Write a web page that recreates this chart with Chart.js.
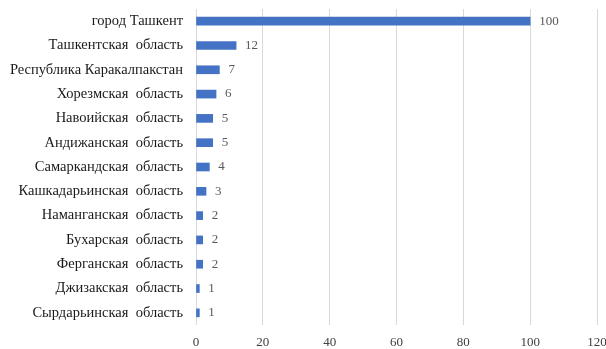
<!DOCTYPE html>
<html>
<head>
<meta charset="utf-8">
<script src="https://cdn.jsdelivr.net/npm/chart.js@4/dist/chart.umd.min.js"></script>
<style>
  html, body { margin: 0; padding: 0; background: #fff; }
  #wrap { width: 606px; height: 349px; }
</style>
</head>
<body>
<div id="wrap"><canvas id="regionChart" width="606" height="349"></canvas></div>
<script>
const regiones = [
    "город Ташкент",
    "Ташкентская  область",
    "Республика Каракалпакстан",
    "Хорезмская  область",
    "Навоийская  область",
    "Андижанская  область",
    "Самаркандская  область",
    "Кашкадарьинская  область",
    "Наманганская  область",
    "Бухарская  область",
    "Ферганская  область",
    "Джизакская  область",
    "Сырдарьинская  область"
];
const valores = [100, 12, 7, 6, 5, 5, 4, 3, 2, 2, 2, 1, 1];
const ejeMax = 120;
const ejePaso = 20;

const fuente = "'Liberation Serif', 'Times New Roman', serif";

// escribe el valor al final de cada barra
const etiquetasValor = {
    id: "etiquetasValor",
    afterDatasetsDraw(chart) {
        const ctx = chart.ctx;
        const meta = chart.getDatasetMeta(0);
        ctx.save();
        ctx.font = "13px " + fuente;
        ctx.fillStyle = "#595959";
        ctx.textAlign = "left";
        ctx.textBaseline = "middle";
        meta.data.forEach((bar, i) => {
            ctx.fillText(String(valores[i]), bar.x + 9, bar.y);
        });
        ctx.restore();
    }
};

const ctx = document.getElementById("regionChart").getContext("2d");
new Chart(ctx, {
    type: "bar",
    data: {
        labels: regiones,
        datasets: [{
            data: valores,
            backgroundColor: "#4472C4",
            borderWidth: 0,
            barThickness: 8
        }]
    },
    options: {
        indexAxis: "y",
        responsive: false,
        animation: false,
        layout: {
            padding: { top: 9, right: 9, bottom: 0, left: 0 }
        },
        plugins: {
            legend: { display: false },
            tooltip: { enabled: false }
        },
        scales: {
            x: {
                min: 0,
                max: ejeMax,
                ticks: {
                    stepSize: ejePaso,
                    color: "#404040",
                    font: { family: fuente, size: 13 },
                    padding: 10
                },
                grid: {
                    color: "#d9d9d9",
                    lineWidth: 1,
                    drawTicks: false
                },
                border: { display: false },
                afterFit(scale) {
                    scale.height = 24;
                    scale.paddingRight = 0;
                    scale.paddingLeft = 0;
                }
            },
            y: {
                ticks: {
                    color: "#1a1a1a",
                    font: { family: fuente, size: 14.5 },
                    padding: 13,
                    autoSkip: false
                },
                grid: { display: false, drawTicks: false },
                border: { display: false },
                afterFit(scale) {
                    scale.width = 196;
                    scale.paddingTop = 0;
                    scale.paddingBottom = 0;
                }
            }
        }
    },
    plugins: [etiquetasValor]
});
</script>
</body>
</html>
